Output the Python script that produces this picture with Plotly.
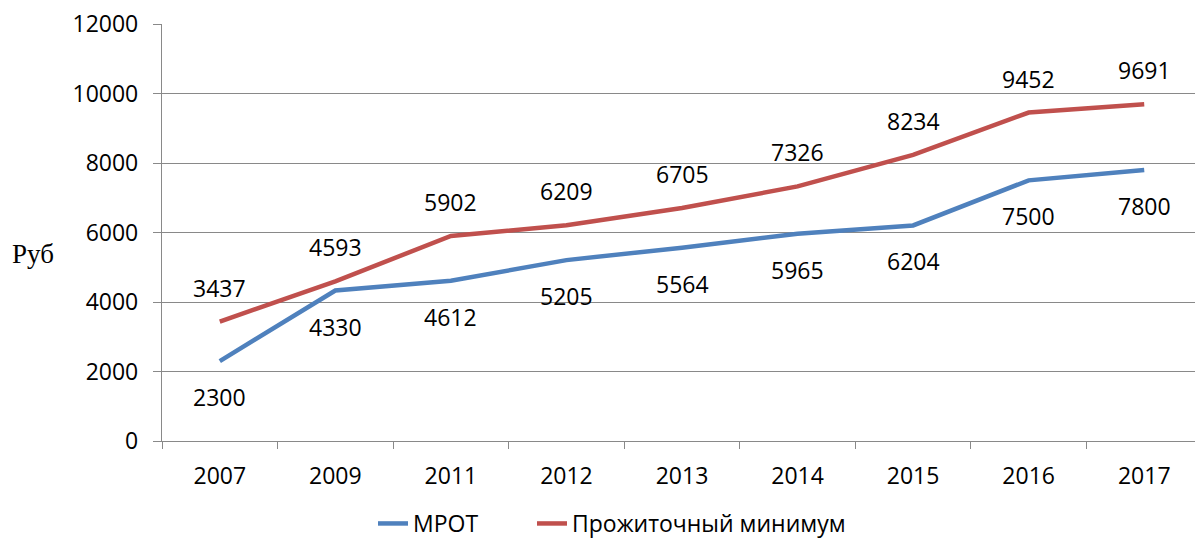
import plotly.graph_objects as go

years = ["2007", "2009", "2011", "2012", "2013", "2014", "2015", "2016", "2017"]
mrot = [2300, 4330, 4612, 5205, 5564, 5965, 6204, 7500, 7800]
minimum = [3437, 4593, 5902, 6209, 6705, 7326, 8234, 9452, 9691]
y_ticks = [0, 2000, 4000, 6000, 8000, 10000, 12000]

blue = "#4F81BD"
red = "#C0504D"
grid = "#898989"
font = "Open Sans"
fs = 23

W, H = 1202, 542
plot_left, plot_right, plot_top, plot_bottom = 162, 1202, 24, 441
ph = plot_bottom - plot_top
pw = plot_right - plot_left

fig = go.Figure()
fig.add_trace(go.Scatter(x=years, y=mrot, mode="lines", name="МРОТ",
                         line=dict(color=blue, width=4.5), legend="legend"))
fig.add_trace(go.Scatter(x=years, y=minimum, mode="lines", name="Прожиточный минимум",
                         line=dict(color=red, width=4.5), legend="legend2"))

annotations = []
for i, v in enumerate(mrot):
    annotations.append(dict(x=i, y=v, xref="x", yref="y", text=str(v), showarrow=False,
                            yshift=-36, font=dict(family=font, size=fs, color="black")))
for i, v in enumerate(minimum):
    annotations.append(dict(x=i, y=v, xref="x", yref="y", text=str(v), showarrow=False,
                            yshift=34, font=dict(family=font, size=fs, color="black")))
annotations.append(dict(
    x=(33 - plot_left) / pw,
    y=(plot_bottom - 254) / ph,
    xref="paper", yref="paper", text="Руб", showarrow=False,
    xanchor="center", yanchor="middle",
    font=dict(family="Liberation Serif", size=27, color="black")))

leg_y = -(502 - plot_bottom) / ph
leg_common = dict(orientation="h", xanchor="left", y=leg_y, yanchor="top",
                  font=dict(family=font, size=fs), bgcolor="rgba(0,0,0,0)")

fig.update_layout(
    width=W, height=H,
    margin=dict(l=plot_left, r=W - plot_right, t=plot_top, b=H - plot_bottom,
                autoexpand=False),
    plot_bgcolor="white", paper_bgcolor="white",
    font=dict(family=font, size=fs, color="black"),
    showlegend=True,
    legend=dict(x=(373 - plot_left) / pw, **leg_common),
    legend2=dict(x=(532 - plot_left) / pw, **leg_common),
    annotations=annotations,
)
fig.update_xaxes(type="category", range=[-0.5, 8.5], showgrid=False,
                 showline=True, linecolor=grid, linewidth=1.3,
                 ticks="outside", tickson="boundaries", ticklen=7, tickcolor=grid,
                 tickwidth=1.3, tickfont=dict(family=font, size=fs), ticklabelstandoff=14)
fig.update_yaxes(range=[0, 12000], tickvals=y_ticks, tickformat="d", showgrid=True,
                 gridcolor=grid, gridwidth=1.3, showline=True, linecolor=grid,
                 linewidth=1.3, ticks="outside", ticklen=8, tickcolor=grid, tickwidth=1.3,
                 zeroline=False, tickfont=dict(family=font, size=fs), ticklabelstandoff=10)

fig.write_html("out.html", config={"displayModeBar": False},
               post_script="document.body.style.margin='0';document.body.style.overflow='hidden';")
